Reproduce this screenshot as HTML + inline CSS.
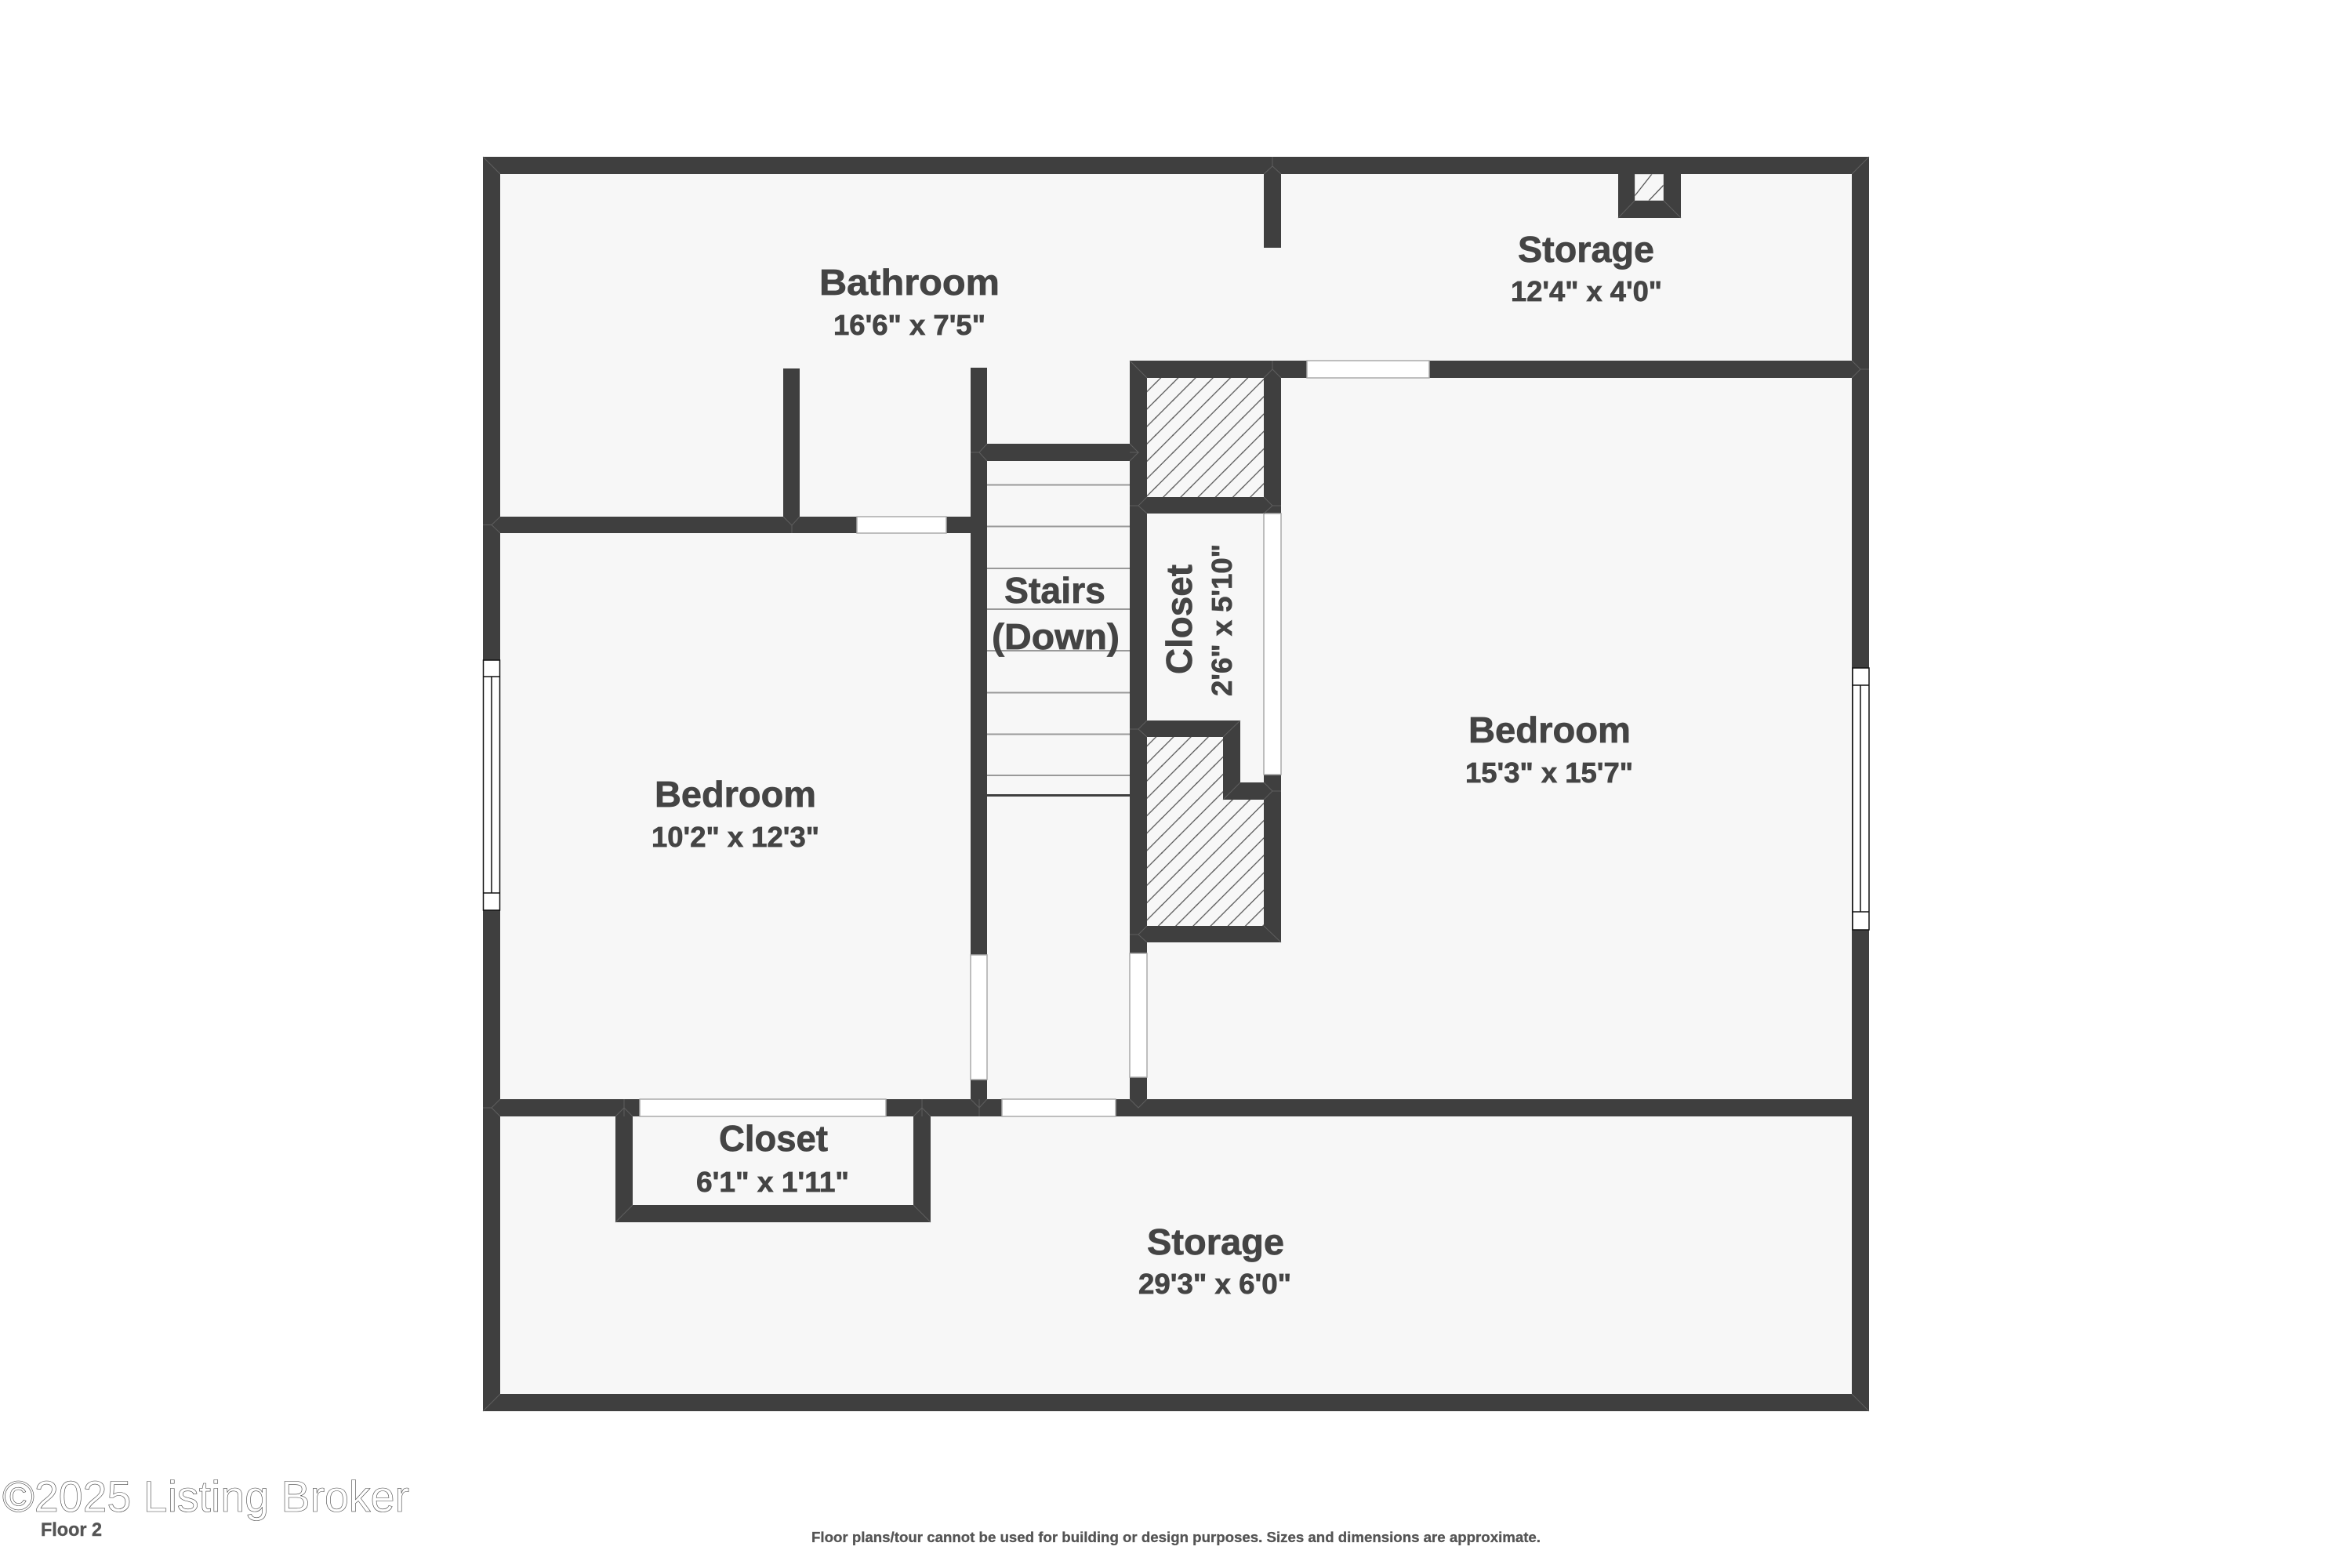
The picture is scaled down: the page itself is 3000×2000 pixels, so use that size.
<!DOCTYPE html>
<html>
<head>
<meta charset="utf-8">
<title>Floor 2 plan</title>
<style>
html,body{margin:0;padding:0;background:#fff;width:3000px;height:2000px;overflow:hidden}
svg{display:block}
text{font-family:"Liberation Sans",sans-serif;font-weight:bold;fill:#444;stroke:#444;stroke-width:.7}
.w{fill:#3f3f3f}
.g{fill:#fff;stroke:#aaa;stroke-width:1.5}
.s{stroke:#5e5e5e;stroke-width:1;fill:none}
.st{stroke:#999;stroke-width:2}
.f{stroke:#111;stroke-width:1.5;fill:#fff}
</style>
</head>
<body>
<svg width="3000" height="2000" viewBox="0 0 3000 2000" xmlns="http://www.w3.org/2000/svg">
<defs>
<pattern id="h1" patternUnits="userSpaceOnUse" width="22.2" height="22.2" patternTransform="translate(8.9,0)">
<path d="M-2,24.2L24.2,-2M-2,2.2L2.2,-2M20,24.2L24.2,20" stroke="#555" stroke-width="1.3" fill="none"/>
</pattern>
<pattern id="h2" patternUnits="userSpaceOnUse" width="22.2" height="22.2" patternTransform="translate(16.9,0)">
<path d="M-2,24.2L24.2,-2M-2,2.2L2.2,-2M20,24.2L24.2,20" stroke="#555" stroke-width="1.3" fill="none"/>
</pattern>
</defs>
<rect width="3000" height="2000" fill="#fff"/>
<rect x="616" y="200" width="1768" height="1600" fill="#f7f7f7"/>

<!-- hatches -->
<rect x="1463" y="482" width="149" height="152" fill="url(#h1)"/>
<path d="M1463,940H1560V1020H1612V1181H1463Z" fill="url(#h2)"/>
<path d="M2107,222L2085,250M2122,236L2103,256" stroke="#555" stroke-width="1.3" fill="none"/>
<rect x="2085" y="222" width="37" height="34" fill="none" stroke="#bbb" stroke-width="1"/>

<!-- outer walls -->
<rect class="w" x="616" y="200" width="1768" height="22"/>
<rect class="w" x="616" y="1778" width="1768" height="22"/>
<rect class="w" x="616" y="200" width="22" height="1600"/>
<rect class="w" x="2362" y="200" width="22" height="1600"/>

<!-- top stub, chimney -->
<rect class="w" x="1612" y="200" width="22" height="116"/>
<rect class="w" x="2064" y="222" width="21" height="56"/>
<rect class="w" x="2122" y="222" width="22" height="56"/>
<rect class="w" x="2064" y="256" width="80" height="22"/>

<!-- upper horizontal -->
<rect class="w" x="1441" y="460" width="943" height="22"/>

<!-- bath stubs and left horizontal -->
<rect class="w" x="999" y="470" width="21" height="200"/>
<rect class="w" x="616" y="659" width="622" height="21"/>

<!-- stair walls -->
<rect class="w" x="1238" y="469" width="21" height="955"/>
<rect class="w" x="1238" y="566" width="203" height="22"/>
<rect class="w" x="1441" y="460" width="22" height="964"/>

<!-- closet box -->
<rect class="w" x="1612" y="460" width="22" height="195"/>
<rect class="w" x="1441" y="634" width="193" height="21"/>
<rect class="w" x="1441" y="919" width="141" height="21"/>
<rect class="w" x="1560" y="919" width="22" height="101"/>
<rect class="w" x="1560" y="998" width="74" height="22"/>
<rect class="w" x="1612" y="988" width="22" height="214"/>
<rect class="w" x="1441" y="1181" width="193" height="21"/>

<!-- lower horizontal -->
<rect class="w" x="616" y="1402" width="1768" height="22"/>

<!-- small closet -->
<rect class="w" x="785" y="1402" width="22" height="157"/>
<rect class="w" x="1165" y="1402" width="22" height="157"/>
<rect class="w" x="785" y="1537" width="402" height="22"/>

<!-- openings / interior windows -->
<rect class="g" x="1093" y="659" width="114" height="21"/>
<rect class="g" x="1667" y="460" width="156" height="22"/>
<rect class="g" x="1612" y="655" width="22" height="333"/>
<rect class="g" x="1238" y="1218" width="21" height="159"/>
<rect class="g" x="1441" y="1216" width="22" height="158"/>
<rect class="g" x="816" y="1402" width="314" height="22"/>
<rect class="g" x="1278" y="1402" width="145" height="22"/>

<!-- exterior windows -->
<rect class="f" x="616.5" y="842" width="21" height="319"/>
<path d="M616.5,863H637.5M616.5,1139H637.5M627,863V1139" stroke="#111" stroke-width="1.5" fill="none"/>
<rect class="f" x="2363" y="852" width="21" height="334"/>
<path d="M2363,874H2384M2363,1163H2384M2373,874V1163" stroke="#111" stroke-width="1.5" fill="none"/>

<!-- stairs -->
<path class="st" d="M1259,618.5H1441M1259,671.5H1441M1259,725H1441M1259,777H1441M1259,830H1441M1259,883.5H1441M1259,936.5H1441M1259,989H1441"/>
<path d="M1259,1014.5H1441" stroke="#3f3f3f" stroke-width="3"/>

<!-- mitre seams -->
<path class="s" d="M616,200L638,222M2384,200L2362,222M616,1800L638,1778M2384,1800L2362,1778M1441,460L1463,482M1634,1202L1612,1181M785,1559L807,1537M1187,1559L1165,1537M2064,278L2085,256M2144,278L2122,256M1623,200V212L1612,222M1623,212L1634,222M2384,471L2373,471L2362,460M2373,471L2362,482M1623,460V471L1612,482M1623,471L1634,482M616,669.5H627L638,659M627,669.5L638,680M1238,577H1249L1259,566M1249,577L1259,588M1441,577H1452L1441,566M1452,577L1441,588M1010,670V680M999,659L1010,670L1020,659M616,1413H627L638,1402M627,1413L638,1424M796,1424V1402M785,1424L796,1413L807,1424M1176,1402V1424M1165,1424L1176,1413L1187,1424M1249,1402L1249,1424M1238,1402L1249,1413L1259,1402M1441,1402L1452,1413L1463,1402M1441,645H1452L1463,634M1452,645L1463,655M1623,645H1634M1623,645L1612,634M1623,645L1612,655M1441,930H1452L1463,919M1452,930L1463,940M1441,1192H1452L1463,1181M1452,1192L1463,1202M1623,1009H1634M1623,1009L1612,998M1623,1009L1612,1020M1582,919L1560,940M1582,998L1560,1020"/>

<!-- labels -->
<text x="1045" y="376" font-size="46" textLength="230" lengthAdjust="spacingAndGlyphs">Bathroom</text>
<text x="1063" y="427" font-size="36" textLength="194" lengthAdjust="spacingAndGlyphs">16'6" x 7'5"</text>
<text x="1936" y="334" font-size="46" textLength="174" lengthAdjust="spacingAndGlyphs">Storage</text>
<text x="1927" y="384" font-size="36" textLength="193" lengthAdjust="spacingAndGlyphs">12'4" x 4'0"</text>
<text x="1281" y="769" font-size="46" textLength="129" lengthAdjust="spacingAndGlyphs">Stairs</text>
<text x="1265" y="828" font-size="46" textLength="163" lengthAdjust="spacingAndGlyphs">(Down)</text>
<text transform="translate(1520,860) rotate(-90)" font-size="46" textLength="140" lengthAdjust="spacingAndGlyphs">Closet</text>
<text transform="translate(1571,888) rotate(-90)" font-size="36" textLength="194" lengthAdjust="spacingAndGlyphs">2'6" x 5'10"</text>
<text x="835" y="1029" font-size="46" textLength="206" lengthAdjust="spacingAndGlyphs">Bedroom</text>
<text x="831" y="1080" font-size="36" textLength="214" lengthAdjust="spacingAndGlyphs">10'2" x 12'3"</text>
<text x="1873" y="947" font-size="46" textLength="207" lengthAdjust="spacingAndGlyphs">Bedroom</text>
<text x="1869" y="998" font-size="36" textLength="214" lengthAdjust="spacingAndGlyphs">15'3" x 15'7"</text>
<text x="917" y="1468" font-size="46" textLength="139" lengthAdjust="spacingAndGlyphs">Closet</text>
<text x="888" y="1520" font-size="36" textLength="195" lengthAdjust="spacingAndGlyphs">6'1" x 1'11"</text>
<text x="1463" y="1600" font-size="46" textLength="175" lengthAdjust="spacingAndGlyphs">Storage</text>
<text x="1452" y="1650" font-size="36" textLength="195" lengthAdjust="spacingAndGlyphs">29'3" x 6'0"</text>

<!-- footer -->
<text x="3" y="1928" font-size="56" textLength="519" lengthAdjust="spacingAndGlyphs" style="fill:#fff;stroke:#444;stroke-width:.6;font-weight:normal">©2025 Listing Broker</text>
<text x="52" y="1959" font-size="24" textLength="78" lengthAdjust="spacingAndGlyphs" style="fill:#555;stroke:#555;stroke-width:.4">Floor 2</text>
<text x="1035" y="1967" font-size="18" textLength="930" lengthAdjust="spacingAndGlyphs" style="fill:#555;stroke:#555;stroke-width:.3">Floor plans/tour cannot be used for building or design purposes. Sizes and dimensions are approximate.</text>
</svg>
</body>
</html>
